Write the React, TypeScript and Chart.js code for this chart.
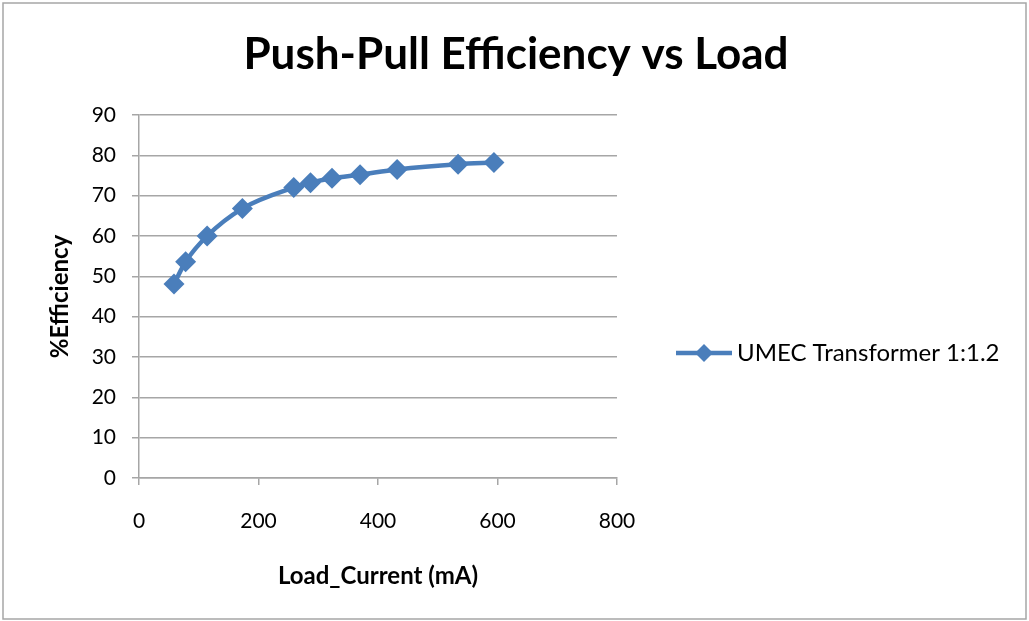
import React, { useEffect, useRef } from "react";
import { Chart, registerables } from "chart.js";

Chart.register(...registerables);

const chartTitle = "Push-Pull Efficiency vs Load";
const seriesName = "UMEC Transformer 1:1.2";
const xAxisTitle = "Load_Current (mA)";
const yAxisTitle = "%Efficiency";
const loadCurrent = [58.6, 78, 114, 173, 259, 287, 323, 370, 432, 534, 594];
const efficiency = [48.1, 53.6, 60.0, 66.8, 72.0, 73.2, 74.3, 75.2, 76.5, 77.8, 78.2];

const FONT = "Lato, 'Open Sans', sans-serif";
const BLUE = "#4a7ebb";
const GRID = "#a6a6a6";

const decorPlugin = {
  id: "decor",
  afterDraw(chart: any) {
    const ctx = chart.ctx;
    const W = chart.width;
    const H = chart.height;
    ctx.save();
    // border
    ctx.strokeStyle = "#a6a6a6";
    ctx.lineWidth = 1.5;
    ctx.strokeRect(3, 3, W - 6, H - 5);
    // title
    ctx.fillStyle = "#000";
    ctx.font = `bold 44px ${FONT}`;
    ctx.textAlign = "center";
    ctx.textBaseline = "alphabetic";
    ctx.fillText(chartTitle, 516, 69);
    // legend
    const ly = 353;
    ctx.strokeStyle = BLUE;
    ctx.lineWidth = 4.5;
    ctx.beginPath();
    ctx.moveTo(676, ly);
    ctx.lineTo(732, ly);
    ctx.stroke();
    ctx.fillStyle = BLUE;
    ctx.beginPath();
    ctx.moveTo(704, ly - 9);
    ctx.lineTo(713, ly);
    ctx.lineTo(704, ly + 9);
    ctx.lineTo(695, ly);
    ctx.closePath();
    ctx.fill();
    ctx.fillStyle = "#000";
    ctx.font = `24px ${FONT}`;
    ctx.textAlign = "left";
    ctx.textBaseline = "middle";
    ctx.fillText(seriesName, 737, ly);
    ctx.restore();
  },
};

export default function App() {
  const ref = useRef<HTMLCanvasElement>(null);
  useEffect(() => {
    const data = loadCurrent.map((x, i) => ({ x, y: efficiency[i] }));
    const chart = new Chart(ref.current!, {
      type: "line",
      data: {
        datasets: [
          {
            label: seriesName,
            data,
            borderColor: BLUE,
            backgroundColor: BLUE,
            borderWidth: 4.5,
            pointStyle: "rectRot",
            pointRadius: 10.5,
            pointBorderWidth: 0,
            pointBackgroundColor: BLUE,
            tension: 0.35,
            cubicInterpolationMode: "monotone",
          },
        ],
      },
      options: {
        animation: false,
        responsive: false,
        maintainAspectRatio: false,
        layout: { padding: { left: 46, right: 412, top: 115, bottom: 20 } },
        plugins: {
          legend: { display: false },
          title: { display: false },
          tooltip: { enabled: false },
        },
        scales: {
          x: {
            type: "linear",
            min: 0,
            max: 800,
            afterFit: (s: any) => {
              s.height = 621 - 20 - 478;
            },
            ticks: {
              stepSize: 200,
              color: "#000",
              font: { family: FONT, size: 21 },
              padding: 24,
              maxRotation: 0,
            },
            grid: {
              drawOnChartArea: false,
              drawTicks: true,
              tickLength: 7,
              color: GRID,
              lineWidth: 1.5,
            },
            border: { display: true, color: GRID, width: 1.5 },
            title: {
              display: true,
              text: xAxisTitle,
              color: "#000",
              font: { family: FONT, size: 24, weight: "bold" },
              padding: { top: 0, bottom: 10 },
            },
          },
          y: {
            type: "linear",
            min: 0,
            max: 90,
            afterFit: (s: any) => {
              s.width = 139 - 46;
            },
            ticks: {
              stepSize: 10,
              color: "#000",
              font: { family: FONT, size: 21 },
              padding: 16,
            },
            grid: {
              drawTicks: true,
              tickLength: 7,
              color: GRID,
              lineWidth: 1.5,
            },
            border: { display: true, color: GRID, width: 1.5 },
            title: {
              display: true,
              text: yAxisTitle,
              color: "#000",
              font: { family: FONT, size: 24, weight: "bold" },
              padding: 0,
            },
          },
        },
      },
      plugins: [decorPlugin],
    });
    return () => chart.destroy();
  }, []);
  return (
    <div style={{ position: "fixed", left: 0, top: 0, width: 1029, height: 621, background: "#fff" }}>
      <canvas ref={ref} width={1029} height={621} style={{ display: "block" }} />
    </div>
  );
}
